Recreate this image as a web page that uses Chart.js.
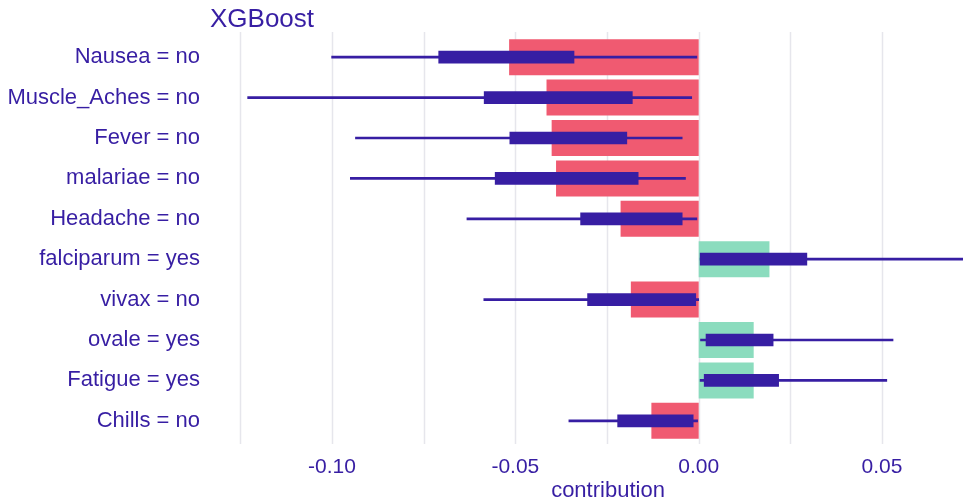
<!DOCTYPE html>
<html>
<head>
<meta charset="utf-8">
<script src="https://cdn.jsdelivr.net/npm/chart.js@4/dist/chart.umd.min.js"></script>
<style>
  html, body { margin: 0; padding: 0; background: #ffffff; }
  #wrap { width: 963px; height: 504px; position: relative; }
</style>
</head>
<body>
<div id="wrap"><canvas id="chart" width="963" height="504"></canvas></div>
<script>
// Feature labels, top to bottom
const features = [
  'Nausea = no', 'Muscle_Aches = no', 'Fever = no', 'malariae = no', 'Headache = no',
  'falciparum = yes', 'vivax = no', 'ovale = yes', 'Fatigue = yes', 'Chills = no'
];
// Mean contribution of each feature
const contribution = [-0.0517, -0.0415, -0.0401, -0.0389, -0.0213, 0.0193, -0.0185, 0.0150, 0.0150, -0.0129];
// Distribution of contributions over orderings: min, lower quartile, upper quartile, max
const whiskerMin = [-0.1001, -0.1230, -0.0936, -0.0950, -0.0632, 0.0004, -0.0586, 0.0005, 0.0004, -0.0354];
const boxLow     = [-0.0709, -0.0585, -0.0515, -0.0555, -0.0322, 0.0004, -0.0303, 0.0020, 0.0015, -0.0221];
const boxHigh    = [-0.0340, -0.0181, -0.0196, -0.0165, -0.0045, 0.0295, -0.0008, 0.0203, 0.0218, -0.0015];
const whiskerMax = [-0.0005, -0.0019, -0.0045, -0.0036, -0.0005, 0.0780, 0.0000, 0.0530, 0.0513, -0.0003];
// Axis grid positions and labelled ticks
const gridValues = [-0.125, -0.1, -0.075, -0.05, -0.025, 0, 0.025, 0.05];
const tickLabels = { '-0.1': '-0.10', '-0.05': '-0.05', '0': '0.00', '0.05': '0.05' };

const INK = '#371ea3';
const RED = '#f05a71';
const GREEN = '#8bdcbe';
const FONT = "'Liberation Sans', Arial, sans-serif";

// Grid lines spanning the panel, and the title / axis title text
const decorations = {
  id: 'decorations',
  beforeDatasetsDraw(chart) {
    const ctx = chart.ctx;
    const xs = chart.scales.x;
    ctx.save();
    ctx.strokeStyle = '#e6e6ec';
    ctx.lineWidth = 1.5;
    gridValues.forEach(v => {
      const px = Math.round(xs.getPixelForValue(v)) + 0.5;
      ctx.beginPath();
      ctx.moveTo(px, 32);
      ctx.lineTo(px, 444);
      ctx.stroke();
    });
    ctx.restore();
  },
  afterDraw(chart) {
    const ctx = chart.ctx;
    const area = chart.chartArea;
    ctx.save();
    ctx.fillStyle = INK;
    ctx.textBaseline = 'middle';
    ctx.textAlign = 'left';
    ctx.font = '26px ' + FONT;
    ctx.fillText('XGBoost', area.left, 20);
    ctx.textAlign = 'center';
    ctx.font = '22px ' + FONT;
    ctx.fillText('contribution', 608, 491);
    ctx.restore();
  }
};

new Chart(document.getElementById('chart'), {
  type: 'bar',
  data: {
    labels: features,
    datasets: [
      {
        label: 'box',
        data: features.map((_, i) => [boxLow[i], boxHigh[i]]),
        backgroundColor: INK,
        borderWidth: 0,
        barThickness: 12,
        grouped: false,
        order: 1
      },
      {
        label: 'range',
        data: features.map((_, i) => [whiskerMin[i], whiskerMax[i]]),
        backgroundColor: INK,
        borderWidth: 0,
        barThickness: 2,
        grouped: false,
        order: 2
      },
      {
        label: 'contribution',
        data: contribution.map(v => [0, v]),
        backgroundColor: contribution.map(v => v < 0 ? RED : GREEN),
        borderWidth: 0,
        barPercentage: 0.89,
        categoryPercentage: 1,
        grouped: false,
        order: 3
      }
    ]
  },
  options: {
    indexAxis: 'y',
    responsive: false,
    animation: false,
    layout: { padding: { top: 37, right: 0, left: 0, bottom: 0 } },
    plugins: {
      legend: { display: false },
      tooltip: { enabled: false },
      title: { display: false }
    },
    scales: {
      x: {
        type: 'linear',
        min: -0.13327,
        max: 0.07208,
        border: { display: false },
        grid: { display: false, drawTicks: false },
        afterBuildTicks(scale) {
          scale.ticks = gridValues.map(v => ({ value: v }));
        },
        afterFit(scale) { scale.height = 63; },
        ticks: {
          autoSkip: false,
          maxRotation: 0,
          padding: 14,
          color: INK,
          font: { family: FONT, size: 21 },
          callback(v) {
            const key = String(Math.round(v * 1000) / 1000);
            return tickLabels[key] !== undefined ? tickLabels[key] : '';
          }
        }
      },
      y: {
        type: 'category',
        offset: true,
        border: { display: false },
        grid: { display: false, drawTicks: false },
        afterFit(scale) { scale.width = 210; },
        ticks: {
          padding: 10,
          color: INK,
          font: { family: FONT, size: 22 }
        }
      }
    }
  },
  plugins: [decorations]
});
</script>
</body>
</html>
